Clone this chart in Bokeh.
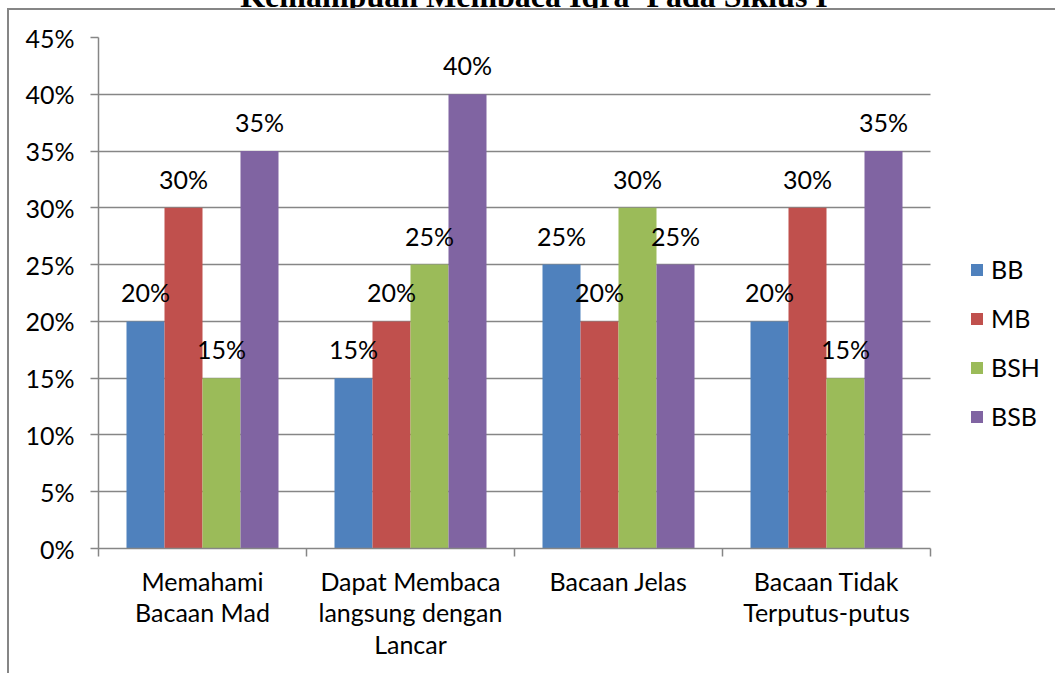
from bokeh.plotting import figure
from bokeh.layouts import column
from bokeh.models import (Range1d, FixedTicker, NumeralTickFormatter, ColumnDataSource,
                          LabelSet, Legend, LegendItem, Div)
from bokeh.core.properties import value
from bokeh.embed import file_html
from bokeh.resources import INLINE

# Reading-skill scores per aspect, in percent of students
categories = ["Memahami\nBacaan Mad", "Dapat Membaca\nlangsung dengan\nLancar",
              "Bacaan Jelas", "Bacaan Tidak\nTerputus-putus"]
series = ["BB", "MB", "BSH", "BSB"]
bb = [20, 15, 25, 20]
mb = [30, 20, 20, 30]
bsh = [15, 25, 30, 15]
bsb = [35, 40, 25, 35]
y_ticks = [0, 5, 10, 15, 20, 25, 30, 35, 40, 45]
title_text = "Kemampuan Membaca Iqra' Pada Siklus I"

colors = ["#4F81BD", "#C0504D", "#9BBB59", "#8064A2"]
FONT = "Lato"
FS = "25px"
GRAY = "#868686"

W, H = 1055, 673
TOP = 8                      # height of the title strip above the chart box
L, R, T, B = 98, 930, 37, 548
group_px = 208               # width of one category group in pixels
n = len(categories)
x_max = n + (W - R) / group_px   # plot area runs on to the right edge for the legend

title_div = Div(
    text=f'<div style="box-sizing:border-box;width:{W}px;margin-top:-31px;padding-left:13px;'
         f'position:relative;top:-5px;'
         f'text-align:center;font-family:\'Liberation Serif\';font-weight:bold;'
         f'font-size:32px;line-height:32px;color:black;white-space:nowrap">{title_text}</div>',
    width=W, height=TOP, margin=0, styles={"overflow": "hidden"})

p = figure(width=W, height=H - TOP, output_backend="svg", toolbar_location=None,
           x_range=Range1d(0, x_max), y_range=Range1d(0, 0.45),
           min_border_left=L, min_border_right=0,
           min_border_top=T - TOP, min_border_bottom=H - B, margin=0,
           styles={"background":
                   f"linear-gradient({GRAY},{GRAY}) 7px 0 / 2px 100% no-repeat, "
                   f"linear-gradient({GRAY},{GRAY}) 7px 0 / 100% 2px no-repeat, white"})
p.outline_line_color = None
p.background_fill_color = None
p.border_fill_color = None

bar_w = 38 / group_px
renderers = []
for j, vals in enumerate([bb, mb, bsh, bsb]):
    xs = [i + 0.5 + (j - 1.5) * bar_w for i in range(n)]
    src = ColumnDataSource(dict(x=xs, top=[v / 100 for v in vals]))
    r = p.vbar(x="x", top="top", width=bar_w, bottom=0, source=src,
               fill_color=colors[j], line_color=None)
    renderers.append(r)

# value labels above every bar
for j, vals in enumerate([bb, mb, bsh, bsb]):
    xs = [i + 0.5 + (j - 1.5) * bar_w for i in range(n)]
    src = ColumnDataSource(dict(x=xs, y=[v / 100 for v in vals], lab=[f"{v}%" for v in vals]))
    p.add_layout(LabelSet(x="x", y="y", text="lab", source=src, y_offset=19,
                          text_align="center", text_baseline="alphabetic",
                          text_font=value(FONT), text_font_size=value(FS),
                          text_color="black"))

# x axis: category names at the centres, tick marks at the group boundaries
centers = [i + 0.5 for i in range(n)]
p.xaxis.bounds = (0, n)
p.xaxis.ticker = FixedTicker(ticks=centers, minor_ticks=list(range(n + 1)))
p.xaxis.major_label_overrides = {c: name for c, name in zip(centers, categories)}
p.xaxis.major_label_text_font = FONT
p.xaxis.major_label_text_font_size = FS
p.xaxis.major_label_text_color = "black"
p.xaxis.major_label_text_line_height = 1.06
p.xaxis.major_label_standoff = 9
p.xaxis.major_tick_line_color = None
p.xaxis.minor_tick_out = 8
p.xaxis.minor_tick_in = 0
p.xaxis.minor_tick_line_color = GRAY
p.xaxis.minor_tick_line_width = 1.5
p.xaxis.axis_line_color = GRAY
p.xaxis.axis_line_width = 1.5

p.yaxis.ticker = FixedTicker(ticks=[t / 100 for t in y_ticks])
p.yaxis.formatter = NumeralTickFormatter(format="0%")
p.yaxis.major_tick_out = 8
p.yaxis.major_tick_in = 0
p.yaxis.minor_tick_line_color = None
p.yaxis.axis_line_color = GRAY
p.yaxis.major_tick_line_color = GRAY
p.yaxis.axis_line_width = 1.5
p.yaxis.major_tick_line_width = 1.5
p.yaxis.major_label_text_font = FONT
p.yaxis.major_label_text_font_size = FS
p.yaxis.major_label_text_color = "black"
p.yaxis.major_label_standoff = 16

p.xgrid.grid_line_color = None
p.ygrid.grid_line_color = GRAY
p.ygrid.grid_line_width = 1.5
p.ygrid.cross_bounds = (0, n)
p.ygrid.level = "underlay"

legend = Legend(items=[LegendItem(label=s, renderers=[r]) for s, r in zip(series, renderers)],
                location=(969 - L, 117), orientation="vertical",
                glyph_width=15, glyph_height=15, label_standoff=7, spacing=19,
                padding=0, margin=0, border_line_color=None, background_fill_alpha=0,
                label_text_font=FONT, label_text_font_size=FS, label_text_color="black")
p.add_layout(legend, "center")

layout = column(title_div, p, spacing=0)
open("out.html", "w").write(file_html(layout, INLINE))
